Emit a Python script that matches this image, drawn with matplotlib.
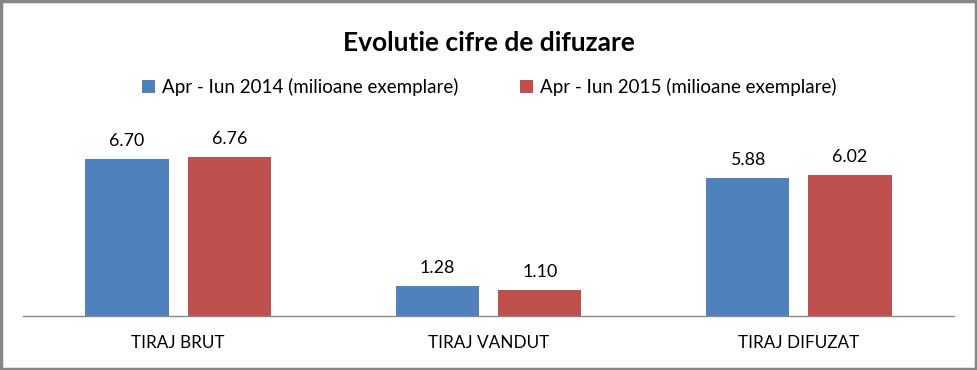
import matplotlib
matplotlib.use("Agg")
from matplotlib import pyplot as plt
from matplotlib.patches import Rectangle
import numpy as np

categories = ["TIRAJ BRUT", "TIRAJ VANDUT", "TIRAJ DIFUZAT"]
series_names = ["Apr - Iun 2014 (milioane exemplare)", "Apr - Iun 2015 (milioane exemplare)"]
values_2014 = [6.70, 1.28, 5.88]
values_2015 = [6.76, 1.10, 6.02]
colors = ["#4F81BD", "#C0504D"]

plt.rcParams["font.family"] = ["Lato", "DejaVu Sans"]

W, H = 978, 370
fig = plt.figure(figsize=(W / 100, H / 100), dpi=100)

# plot area in pixels: x 23..954, baseline at y=316, top at y=120
left, right, bottom, top = 23, 954, 316, 120
ax = fig.add_axes([left / W, 1 - bottom / H, (right - left) / W, (bottom - top) / H])

x = np.arange(len(categories))
bw = 0.268
off = 0.165
b1 = ax.bar(x - off, values_2014, bw, color=colors[0], label=series_names[0])
b2 = ax.bar(x + off, values_2015, bw, color=colors[1], label=series_names[1])

for bars, vals in [(b1, values_2014), (b2, values_2015)]:
    for b, v in zip(bars, vals):
        ax.annotate(f"{v:.2f}", (b.get_x() + b.get_width() / 2, v),
                    xytext=(0, 7), textcoords="offset points",
                    ha="center", va="bottom", fontsize=12.8, color="#000000")

ax.set_xlim(-0.5, 2.5)
ax.set_ylim(0, (bottom - top) / 23.5)
ax.set_yticks([])
ax.set_xticks(x)
ax.set_xticklabels(categories, fontsize=12.3, color="#000000")
ax.tick_params(axis="x", length=0, pad=14)
for s in ["top", "right", "left"]:
    ax.spines[s].set_visible(False)
ax.spines["bottom"].set_color("#888888")
ax.spines["bottom"].set_linewidth(1)

fig.text(0.5, 1 - 43 / H, "Evolutie cifre de difuzare", ha="center", va="center",
         fontsize=19, fontweight="bold")

fig.legend(handles=[b1, b2], loc="center", bbox_to_anchor=(0.5, 1 - 87 / H),
           ncol=2, frameon=False, fontsize=13.5, handlelength=0.7, handleheight=0.7,
           handletextpad=0.35, columnspacing=3.3)

# outer border
fig.patches.append(Rectangle((0.0015, 0.003), 0.996, 0.993, transform=fig.transFigure,
                             fill=False, edgecolor="#868686", linewidth=2.5))

fig.savefig("out.png", dpi=100)
